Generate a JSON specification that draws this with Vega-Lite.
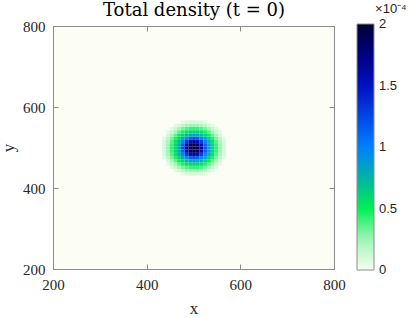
{
  "$schema": "https://vega.github.io/schema/vega-lite/v6.json",
  "autosize": {"type": "none"},
  "padding": {"left": 53, "top": 26, "right": 86, "bottom": 49},
  "width": 281,
  "height": 243,
  "background": "white",
  "config": {
    "view": {"stroke": null, "fill": "#fcfdf5"},
    "axis": {
      "grid": false,
      "labelFlush": false,
      "domainColor": "#8c8c8c",
      "tickColor": "#8c8c8c",
      "tickSize": -5,
      "labelFont": "Liberation Serif",
      "labelFontSize": 15,
      "labelColor": "#262626",
      "titleFont": "Liberation Serif",
      "titleFontSize": 17,
      "titleFontWeight": "normal",
      "titleColor": "#262626"
    }
  },
  "data": {
    "values": [
      {"x":436,"y":476,"v":0.06},{"x":436,"y":484,"v":0.09},{"x":436,"y":492,"v":0.10},{"x":436,"y":500,"v":0.11},{"x":436,"y":508,"v":0.10},{"x":436,"y":516,"v":0.09},{"x":436,"y":524,"v":0.06},
      {"x":444,"y":460,"v":0.06},{"x":444,"y":468,"v":0.10},{"x":444,"y":476,"v":0.17},{"x":444,"y":484,"v":0.22},{"x":444,"y":492,"v":0.25},{"x":444,"y":500,"v":0.26},{"x":444,"y":508,"v":0.25},{"x":444,"y":516,"v":0.22},{"x":444,"y":524,"v":0.17},{"x":444,"y":532,"v":0.10},{"x":444,"y":540,"v":0.06},
      {"x":452,"y":452,"v":0.07},{"x":452,"y":460,"v":0.14},{"x":452,"y":468,"v":0.23},{"x":452,"y":476,"v":0.31},{"x":452,"y":484,"v":0.37},{"x":452,"y":492,"v":0.41},{"x":452,"y":500,"v":0.43},{"x":452,"y":508,"v":0.41},{"x":452,"y":516,"v":0.37},{"x":452,"y":524,"v":0.31},{"x":452,"y":532,"v":0.23},{"x":452,"y":540,"v":0.14},{"x":452,"y":548,"v":0.07},
      {"x":460,"y":444,"v":0.06},{"x":460,"y":452,"v":0.14},{"x":460,"y":460,"v":0.25},{"x":460,"y":468,"v":0.36},{"x":460,"y":476,"v":0.46},{"x":460,"y":484,"v":0.55},{"x":460,"y":492,"v":0.60},{"x":460,"y":500,"v":0.62},{"x":460,"y":508,"v":0.60},{"x":460,"y":516,"v":0.55},{"x":460,"y":524,"v":0.46},{"x":460,"y":532,"v":0.36},{"x":460,"y":540,"v":0.25},{"x":460,"y":548,"v":0.14},{"x":460,"y":556,"v":0.06},
      {"x":468,"y":444,"v":0.10},{"x":468,"y":452,"v":0.23},{"x":468,"y":460,"v":0.36},{"x":468,"y":468,"v":0.49},{"x":468,"y":476,"v":0.62},{"x":468,"y":484,"v":0.74},{"x":468,"y":492,"v":0.82},{"x":468,"y":500,"v":0.85},{"x":468,"y":508,"v":0.82},{"x":468,"y":516,"v":0.74},{"x":468,"y":524,"v":0.62},{"x":468,"y":532,"v":0.49},{"x":468,"y":540,"v":0.36},{"x":468,"y":548,"v":0.23},{"x":468,"y":556,"v":0.10},
      {"x":476,"y":436,"v":0.06},{"x":476,"y":444,"v":0.17},{"x":476,"y":452,"v":0.31},{"x":476,"y":460,"v":0.46},{"x":476,"y":468,"v":0.62},{"x":476,"y":476,"v":0.80},{"x":476,"y":484,"v":0.99},{"x":476,"y":492,"v":1.14},{"x":476,"y":500,"v":1.20},{"x":476,"y":508,"v":1.14},{"x":476,"y":516,"v":0.99},{"x":476,"y":524,"v":0.80},{"x":476,"y":532,"v":0.62},{"x":476,"y":540,"v":0.46},{"x":476,"y":548,"v":0.31},{"x":476,"y":556,"v":0.17},{"x":476,"y":564,"v":0.06},
      {"x":484,"y":436,"v":0.09},{"x":484,"y":444,"v":0.22},{"x":484,"y":452,"v":0.37},{"x":484,"y":460,"v":0.55},{"x":484,"y":468,"v":0.74},{"x":484,"y":476,"v":0.99},{"x":484,"y":484,"v":1.28},{"x":484,"y":492,"v":1.54},{"x":484,"y":500,"v":1.65},{"x":484,"y":508,"v":1.54},{"x":484,"y":516,"v":1.28},{"x":484,"y":524,"v":0.99},{"x":484,"y":532,"v":0.74},{"x":484,"y":540,"v":0.55},{"x":484,"y":548,"v":0.37},{"x":484,"y":556,"v":0.22},{"x":484,"y":564,"v":0.09},
      {"x":492,"y":436,"v":0.10},{"x":492,"y":444,"v":0.25},{"x":492,"y":452,"v":0.41},{"x":492,"y":460,"v":0.60},{"x":492,"y":468,"v":0.82},{"x":492,"y":476,"v":1.14},{"x":492,"y":484,"v":1.54},{"x":492,"y":492,"v":1.80},{"x":492,"y":500,"v":1.90},{"x":492,"y":508,"v":1.80},{"x":492,"y":516,"v":1.54},{"x":492,"y":524,"v":1.14},{"x":492,"y":532,"v":0.82},{"x":492,"y":540,"v":0.60},{"x":492,"y":548,"v":0.41},{"x":492,"y":556,"v":0.25},{"x":492,"y":564,"v":0.10},
      {"x":500,"y":436,"v":0.11},{"x":500,"y":444,"v":0.26},{"x":500,"y":452,"v":0.43},{"x":500,"y":460,"v":0.62},{"x":500,"y":468,"v":0.85},{"x":500,"y":476,"v":1.20},{"x":500,"y":484,"v":1.65},{"x":500,"y":492,"v":1.90},{"x":500,"y":500,"v":2.05},{"x":500,"y":508,"v":1.90},{"x":500,"y":516,"v":1.65},{"x":500,"y":524,"v":1.20},{"x":500,"y":532,"v":0.85},{"x":500,"y":540,"v":0.62},{"x":500,"y":548,"v":0.43},{"x":500,"y":556,"v":0.26},{"x":500,"y":564,"v":0.11},
      {"x":508,"y":436,"v":0.10},{"x":508,"y":444,"v":0.25},{"x":508,"y":452,"v":0.41},{"x":508,"y":460,"v":0.60},{"x":508,"y":468,"v":0.82},{"x":508,"y":476,"v":1.14},{"x":508,"y":484,"v":1.54},{"x":508,"y":492,"v":1.80},{"x":508,"y":500,"v":1.90},{"x":508,"y":508,"v":1.80},{"x":508,"y":516,"v":1.54},{"x":508,"y":524,"v":1.14},{"x":508,"y":532,"v":0.82},{"x":508,"y":540,"v":0.60},{"x":508,"y":548,"v":0.41},{"x":508,"y":556,"v":0.25},{"x":508,"y":564,"v":0.10},
      {"x":516,"y":436,"v":0.09},{"x":516,"y":444,"v":0.22},{"x":516,"y":452,"v":0.37},{"x":516,"y":460,"v":0.55},{"x":516,"y":468,"v":0.74},{"x":516,"y":476,"v":0.99},{"x":516,"y":484,"v":1.28},{"x":516,"y":492,"v":1.54},{"x":516,"y":500,"v":1.65},{"x":516,"y":508,"v":1.54},{"x":516,"y":516,"v":1.28},{"x":516,"y":524,"v":0.99},{"x":516,"y":532,"v":0.74},{"x":516,"y":540,"v":0.55},{"x":516,"y":548,"v":0.37},{"x":516,"y":556,"v":0.22},{"x":516,"y":564,"v":0.09},
      {"x":524,"y":436,"v":0.06},{"x":524,"y":444,"v":0.17},{"x":524,"y":452,"v":0.31},{"x":524,"y":460,"v":0.46},{"x":524,"y":468,"v":0.62},{"x":524,"y":476,"v":0.80},{"x":524,"y":484,"v":0.99},{"x":524,"y":492,"v":1.14},{"x":524,"y":500,"v":1.20},{"x":524,"y":508,"v":1.14},{"x":524,"y":516,"v":0.99},{"x":524,"y":524,"v":0.80},{"x":524,"y":532,"v":0.62},{"x":524,"y":540,"v":0.46},{"x":524,"y":548,"v":0.31},{"x":524,"y":556,"v":0.17},{"x":524,"y":564,"v":0.06},
      {"x":532,"y":444,"v":0.10},{"x":532,"y":452,"v":0.23},{"x":532,"y":460,"v":0.36},{"x":532,"y":468,"v":0.49},{"x":532,"y":476,"v":0.62},{"x":532,"y":484,"v":0.74},{"x":532,"y":492,"v":0.82},{"x":532,"y":500,"v":0.85},{"x":532,"y":508,"v":0.82},{"x":532,"y":516,"v":0.74},{"x":532,"y":524,"v":0.62},{"x":532,"y":532,"v":0.49},{"x":532,"y":540,"v":0.36},{"x":532,"y":548,"v":0.23},{"x":532,"y":556,"v":0.10},
      {"x":540,"y":444,"v":0.06},{"x":540,"y":452,"v":0.14},{"x":540,"y":460,"v":0.25},{"x":540,"y":468,"v":0.36},{"x":540,"y":476,"v":0.46},{"x":540,"y":484,"v":0.55},{"x":540,"y":492,"v":0.60},{"x":540,"y":500,"v":0.62},{"x":540,"y":508,"v":0.60},{"x":540,"y":516,"v":0.55},{"x":540,"y":524,"v":0.46},{"x":540,"y":532,"v":0.36},{"x":540,"y":540,"v":0.25},{"x":540,"y":548,"v":0.14},{"x":540,"y":556,"v":0.06},
      {"x":548,"y":452,"v":0.07},{"x":548,"y":460,"v":0.14},{"x":548,"y":468,"v":0.23},{"x":548,"y":476,"v":0.31},{"x":548,"y":484,"v":0.37},{"x":548,"y":492,"v":0.41},{"x":548,"y":500,"v":0.43},{"x":548,"y":508,"v":0.41},{"x":548,"y":516,"v":0.37},{"x":548,"y":524,"v":0.31},{"x":548,"y":532,"v":0.23},{"x":548,"y":540,"v":0.14},{"x":548,"y":548,"v":0.07},
      {"x":556,"y":460,"v":0.06},{"x":556,"y":468,"v":0.10},{"x":556,"y":476,"v":0.17},{"x":556,"y":484,"v":0.22},{"x":556,"y":492,"v":0.25},{"x":556,"y":500,"v":0.26},{"x":556,"y":508,"v":0.25},{"x":556,"y":516,"v":0.22},{"x":556,"y":524,"v":0.17},{"x":556,"y":532,"v":0.10},{"x":556,"y":540,"v":0.06},
      {"x":564,"y":476,"v":0.06},{"x":564,"y":484,"v":0.09},{"x":564,"y":492,"v":0.10},{"x":564,"y":500,"v":0.11},{"x":564,"y":508,"v":0.10},{"x":564,"y":516,"v":0.09},{"x":564,"y":524,"v":0.06}
    ]
  },
  "layer": [
    {
      "mark": {"type": "rect"},
      "encoding": {
        "x": {
          "field": "x", "type": "quantitative",
          "bin": {"step": 8, "anchor": 496},
          "scale": {"domain": [200, 800], "nice": false, "zero": false},
          "axis": {"orient": "bottom", "values": [200, 400, 600, 800], "format": "d", "title": "x", "labelPadding": 13, "titlePadding": 8}
        },
        "y": {
          "field": "y", "type": "quantitative",
          "bin": {"step": 8, "anchor": 496},
          "scale": {"domain": [200, 800], "nice": false, "zero": false},
          "axis": {"orient": "left", "values": [200, 400, 600, 800], "format": "d", "title": "y", "labelPadding": 13, "titlePadding": 5}
        },
        "color": {
          "field": "v", "type": "quantitative",
          "scale": {
            "domain": [0, 0.25, 0.5, 0.75, 1, 1.25, 1.5, 1.75, 2],
            "range": ["#f6fdf2", "#a2f4b6", "#00ef55", "#00b3a8", "#0080ff", "#0046e6", "#0010c0", "#000080", "#000033"],
            "clamp": true,
            "interpolate": "rgb"
          },
          "legend": {
            "type": "gradient",
            "orient": "none",
            "legendX": 304,
            "legendY": -23,
            "direction": "vertical",
            "values": [0.001, 0.5, 1, 1.5, 1.999],
            "labelExpr": "datum.value < 0.01 ? '0' : datum.value > 1.99 ? '2' : datum.label",
            "format": "~g",
            "gradientLength": 246,
            "gradientThickness": 17,
            "gradientStrokeColor": "#8c8c8c",
            "gradientStrokeWidth": 1,
            "labelFont": "Liberation Sans",
            "labelFontSize": 13,
            "labelColor": "#262626",
            "labelOffset": 5,
            "title": "\u200b\u00a0\u00a0\u00a0\u00a0\u00a0×10⁻⁴",
            "titleFont": "Liberation Sans",
            "titleFontSize": 13,
            "titleFontWeight": "normal",
            "titleColor": "#262626",
            "titlePadding": 8
          }
        }
      }
    },
    {
      "mark": {"type": "point", "opacity": 0},
      "encoding": {
        "x": {
          "field": "x", "type": "quantitative",
          "axis": {"orient": "top", "values": [200, 400, 600, 800], "labels": false, "title": "Total density (t = 0)", "titleFont": "DejaVu Serif", "titleFontSize": 18, "titleColor": "#000000", "titleBaseline": "alphabetic", "titlePadding": 10}
        },
        "y": {
          "field": "y", "type": "quantitative",
          "axis": {"orient": "right", "values": [200, 400, 600, 800], "labels": false, "title": null}
        }
      }
    }
  ],
  "resolve": {"axis": {"x": "independent", "y": "independent"}}
}
